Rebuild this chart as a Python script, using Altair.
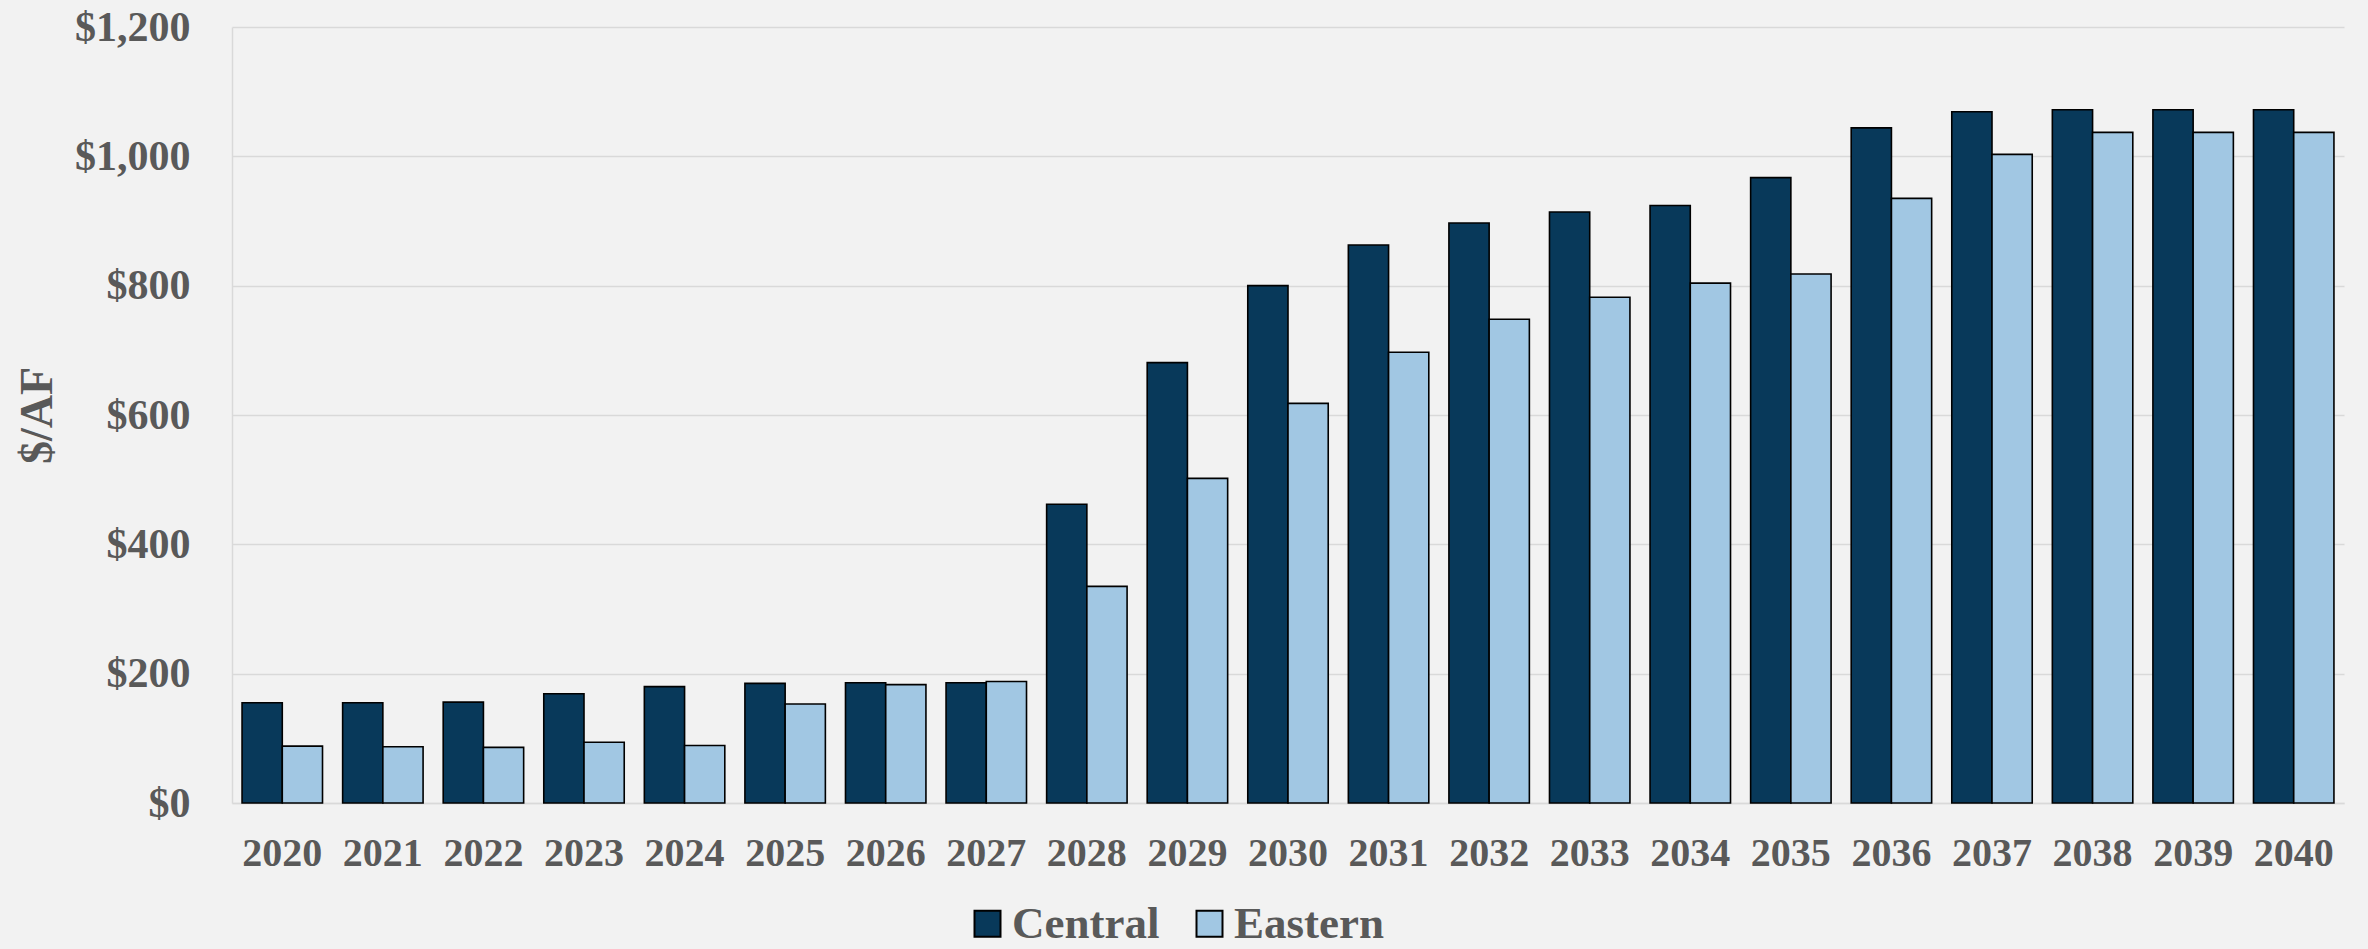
import altair as alt
import pandas as pd

# Cost per acre-foot by year for the two service areas
years = ["2020", "2021", "2022", "2023", "2024", "2025", "2026", "2027", "2028", "2029",
         "2030", "2031", "2032", "2033", "2034", "2035", "2036", "2037", "2038", "2039", "2040"]
central = [155, 155, 156, 169, 180, 185, 186, 186, 462, 681,
           800, 863, 897, 914, 924, 967, 1044, 1069, 1072, 1072, 1072]
eastern = [88, 87, 86, 94, 89, 153, 183, 188, 335, 502,
           618, 697, 748, 782, 804, 818, 935, 1003, 1037, 1037, 1037]
series = ["Central", "Eastern"]
colors = ["#08395A", "#A1C7E3"]
y_ticks = [0, 200, 400, 600, 800, 1000, 1200]

rows = []
for i, yr in enumerate(years):
    rows.append({"year": yr, "area": "Central", "cost": central[i]})
    rows.append({"year": yr, "area": "Eastern", "cost": eastern[i]})
df = pd.DataFrame(rows)

FONT = "Liberation Serif"
GREY = "#595959"
LINE = "#D9D9D9"

chart = (
    alt.Chart(df)
    .mark_bar(stroke="black", strokeWidth=1.6)
    .encode(
        x=alt.X(
            "year:N",
            sort=years,
            scale=alt.Scale(paddingInner=0.2, paddingOuter=0.1),
            axis=alt.Axis(
                title=None,
                labelAngle=0,
                ticks=False,
                grid=False,
                domainColor=LINE,
                domainWidth=1.5,
                labelFont=FONT,
                labelFontSize=40,
                labelFontWeight="bold",
                labelColor=GREY,
                labelPadding=30,
            ),
        ),
        xOffset=alt.XOffset("area:N", sort=series, scale=alt.Scale(paddingInner=0, paddingOuter=0)),
        y=alt.Y(
            "cost:Q",
            scale=alt.Scale(domain=[0, 1200], nice=False),
            axis=alt.Axis(
                title="$/AF",
                values=y_ticks,
                format="$,.0f",
                ticks=False,
                grid=True,
                gridColor=LINE,
                gridWidth=1.5,
                domainColor=LINE,
                domainWidth=1.5,
                labelFont=FONT,
                labelFontSize=42,
                labelFontWeight="bold",
                labelColor=GREY,
                labelPadding=42,
                titleFont=FONT,
                titleFontSize=46,
                titleFontWeight="bold",
                titleColor=GREY,
                titleAngle=270,
                titleAlign="center",
                titleBaseline="alphabetic",
                titleX=-181,
                titleY=388,
            ),
        ),
        color=alt.Color(
            "area:N",
            sort=series,
            scale=alt.Scale(domain=series, range=colors),
            legend=alt.Legend(
                title=None,
                orient="none",
                direction="horizontal",
                legendX=733,
                legendY=874,
                padding=0,
                symbolType="square",
                symbolSize=676,
                symbolStrokeColor="black",
                symbolStrokeWidth=2,
                labelFont=FONT,
                labelFontSize=45,
                labelFontWeight="bold",
                labelColor=GREY,
                labelOffset=2,
                columnPadding=27,
            ),
        ),
    )
    .properties(
        width=2112,
        height=776,
        padding={"left": 232, "top": 27, "right": 24, "bottom": 146},
        autosize=alt.AutoSizeParams(type="none"),
    )
    .configure(background="#F2F2F2")
    .configure_view(stroke=None)
)

chart.save("out.html", embed_options={"renderer": "svg", "actions": False})
